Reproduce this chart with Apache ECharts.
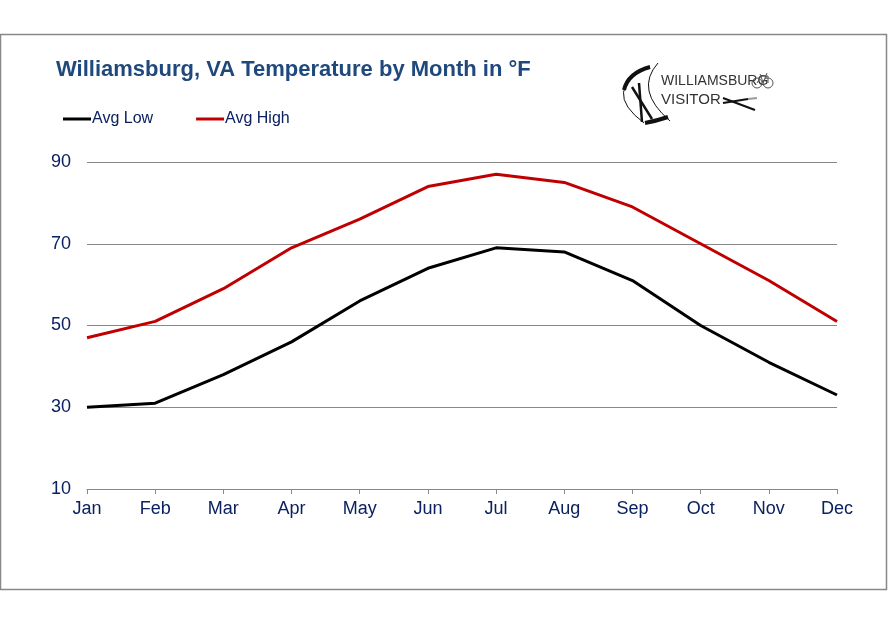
<!DOCTYPE html>
<html><head><meta charset="utf-8">
<script src="https://cdn.jsdelivr.net/npm/echarts@6/dist/echarts.min.js"></script>
<style>html,body{margin:0;padding:0;background:#fff}#c{width:888px;height:625px}</style>
</head><body><div id="c"></div>
<script>
const months = ['Jan','Feb','Mar','Apr','May','Jun','Jul','Aug','Sep','Oct','Nov','Dec'];
const avgLow = [30, 31, 38, 46, 56, 64, 69, 68, 61, 50, 41, 33];
const avgHigh = [47, 51, 59, 69, 76, 84, 87, 85, 79, 70, 61, 51];
const yTicks = {min: 10, max: 90, interval: 20};

const chart = echarts.init(document.getElementById('c'), null, {renderer: 'canvas'});
const navy = '#0B2160';
const thin = (shape, w, c) => ({type: 'bezierCurve', shape: shape, style: {stroke: c || '#111', fill: 'none', lineWidth: w}});
const seg = (x1, y1, x2, y2, w, c) => ({type: 'line', shape: {x1, y1, x2, y2}, style: {stroke: c || '#111', lineWidth: w}});
chart.setOption({
  animation: false,
  backgroundColor: '#fff',
  title: {
    text: 'Williamsburg, VA Temperature by Month in °F',
    left: 51, top: 54,
    textStyle: {color: '#1F497D', fontSize: 22, fontWeight: 'bold', fontFamily: 'Liberation Sans'}
  },
  legend: {
    left: 63, top: 111, padding: 0,
    itemWidth: 28, itemHeight: 3, itemGap: 43,
    icon: 'rect',
    textStyle: {color: navy, fontSize: 16, fontFamily: 'Liberation Sans', padding: [0,0,0,-4]},
    data: ['Avg Low', 'Avg High']
  },
  grid: {left: 87, right: 51, top: 162, bottom: 136},
  xAxis: {
    type: 'category', data: months, boundaryGap: false,
    axisLine: {lineStyle: {color: '#888', width: 1}},
    axisTick: {show: true, length: 5, lineStyle: {color: '#888'}},
    axisLabel: {color: navy, fontSize: 18, fontFamily: 'Liberation Sans', margin: 11}
  },
  yAxis: {
    type: 'value', min: yTicks.min, max: yTicks.max, interval: yTicks.interval,
    axisLine: {show: false}, axisTick: {show: false},
    splitLine: {lineStyle: {color: '#888', width: 1}},
    axisLabel: {color: navy, fontSize: 18, fontFamily: 'Liberation Sans', margin: 16}
  },
  series: [
    {name: 'Avg Low', type: 'line', data: avgLow, symbol: 'none', lineStyle: {color: '#000', width: 3}, itemStyle: {color: '#000'}},
    {name: 'Avg High', type: 'line', data: avgHigh, symbol: 'none', lineStyle: {color: '#C00000', width: 3}, itemStyle: {color: '#C00000'}}
  ],
  graphic: [
    {type: 'rect', shape: {x: 0.5, y: 34.5, width: 886, height: 555}, style: {fill: 'none', stroke: '#888', lineWidth: 1.5}, z: -1},
    {type: 'group', x: 0, y: 0, silent: true, children: [
      thin({x1: 650, y1: 66, cpx1: 600, cpy1: 90, x2: 644, y2: 123}, 1),
      thin({x1: 658, y1: 63, cpx1: 634, cpy1: 90, x2: 670, y2: 121}, 1),
      thin({x1: 624, y1: 90, cpx1: 628, cpy1: 73, x2: 650, y2: 67}, 4),
      thin({x1: 645, y1: 123, cpx1: 656, cpy1: 121, x2: 668, y2: 117}, 4),
      seg(632, 87, 652, 119, 2.5),
      seg(639, 83, 642, 122, 2.5),
      {type: 'text', x: 661, y: 74, style: {text: 'WILLIAMSBURG', fill: '#333', font: '14px "Liberation Sans Narrow", "Liberation Sans"'}},
      {type: 'text', x: 661, y: 92, style: {text: 'VISITOR', fill: '#333', font: '15px "Liberation Sans"'}},
      {type: 'circle', shape: {cx: 757, cy: 83, r: 5}, style: {stroke: '#555', fill: 'none', lineWidth: 1}},
      {type: 'circle', shape: {cx: 768, cy: 83, r: 5}, style: {stroke: '#555', fill: 'none', lineWidth: 1}},
      {type: 'polyline', shape: {points: [[757, 83], [761, 76], [768, 76], [768, 83]]}, style: {stroke: '#555', fill: 'none', lineWidth: 1}},
      {type: 'polyline', shape: {points: [[760, 74], [761, 76], [763, 83], [767, 73]]}, style: {stroke: '#555', fill: 'none', lineWidth: 1}},
      seg(723, 98, 755, 110, 2),
      seg(723, 103, 748, 99, 2),
      seg(748, 99, 757, 98, 2, '#999')
    ]}
  ]
});
</script></body></html>
